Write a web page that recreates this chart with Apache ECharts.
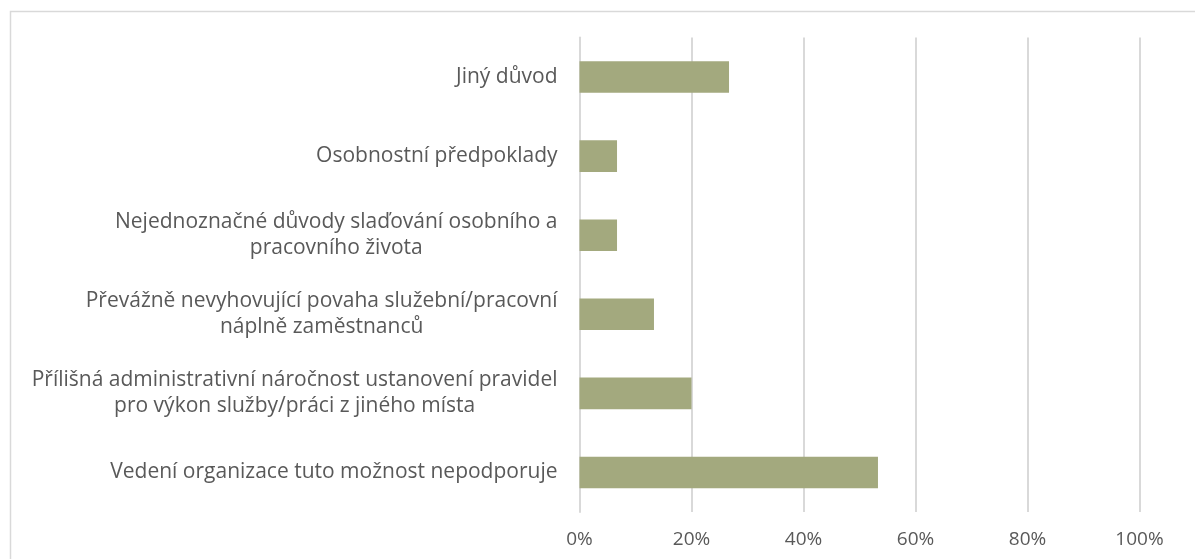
<!DOCTYPE html>
<html>
<head>
<meta charset="utf-8">
<style>
  html, body { margin: 0; padding: 0; background: #ffffff; }
  #chart { width: 1195px; height: 559px; }
</style>
<script src="https://cdn.jsdelivr.net/npm/echarts@6/dist/echarts.min.js"></script>
</head>
<body>
<div id="chart"></div>
<script>
// Reasons, listed bottom to top as they appear on the category axis
const categories = [
  'Vedení organizace tuto možnost nepodporuje',
  'Přílišná administrativní náročnost ustanovení pravidel\npro výkon služby/práci z jiného místa',
  'Převážně nevyhovující povaha služební/pracovní\nnáplně zaměstnanců',
  'Nejednoznačné důvody slaďování osobního a\npracovního života',
  'Osobnostní předpoklady',
  'Jiný důvod'
];

// Share of respondents, in percent
const shares = [53.3, 20.0, 13.3, 6.7, 6.7, 26.7];

// Value axis ticks
const axisMin = 0;
const axisMax = 100;
const axisStep = 20;

const chart = echarts.init(document.getElementById('chart'), null, { renderer: 'canvas' });

const textFont = "'Open Sans', 'Noto Sans', sans-serif";
const textColor = '#595959';

chart.setOption({
  animation: false,
  backgroundColor: '#ffffff',
  // thin frame around the chart area
  graphic: [{
    type: 'rect',
    silent: true,
    shape: { x: 10.5, y: 11.5, width: 1200, height: 600 },
    style: { fill: 'none', stroke: '#d9d9d9', lineWidth: 1.5 }
  }],
  grid: {
    left: 579.5,
    right: 55.5,
    top: 37.5,
    bottom: 47,
    containLabel: false
  },
  xAxis: {
    type: 'value',
    min: axisMin,
    max: axisMax,
    interval: axisStep,
    axisLine: { show: false },
    axisTick: { show: false },
    splitLine: { show: true, lineStyle: { color: '#d9d9d9', width: 2 } },
    axisLabel: {
      formatter: v => v + '%',
      color: textColor,
      fontFamily: textFont,
      fontSize: 19,
      margin: 18
    }
  },
  yAxis: {
    type: 'category',
    data: categories,
    axisLine: { show: true, lineStyle: { color: '#d9d9d9', width: 2 } },
    axisTick: { show: false },
    axisLabel: {
      margin: 22,
      align: 'right',
      // each line is centred within the label block
      formatter: v => '{a|' + v.split('\n').join('}\n{a|') + '}',
      rich: {
        a: { fontFamily: textFont, fontSize: 21, color: textColor, lineHeight: 26, align: 'center' }
      }
    }
  },
  series: [{
    type: 'bar',
    data: shares,
    barCategoryGap: '60%',
    itemStyle: { color: '#a3a97e' },
    silent: true
  }]
});
</script>
</body>
</html>
